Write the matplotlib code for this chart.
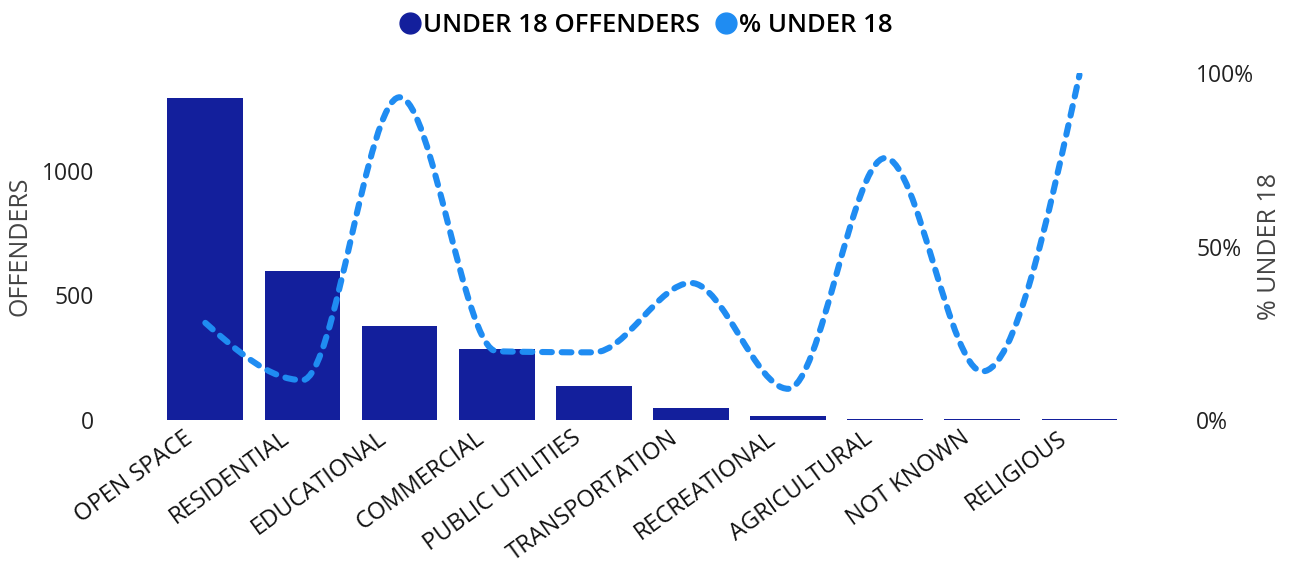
import matplotlib
matplotlib.use("Agg")
import matplotlib.pyplot as plt
from matplotlib.path import Path
from matplotlib.patches import PathPatch
from matplotlib.lines import Line2D
from matplotlib.ticker import PercentFormatter

plt.rcParams['font.family'] = ['Open Sans', 'DejaVu Sans']

categories = ["OPEN SPACE", "RESIDENTIAL", "EDUCATIONAL", "COMMERCIAL", "PUBLIC UTILITIES",
              "TRANSPORTATION", "RECREATIONAL", "AGRICULTURAL", "NOT KNOWN", "RELIGIOUS"]
offenders = [1292, 600, 376, 284, 136, 48, 18, 4, 4, 3]
pct_under18 = [0.28, 0.115, 0.93, 0.198, 0.195, 0.395, 0.09, 0.755, 0.14, 0.995]

bar_color = "#131F9C"
line_color = "#1F8CF2"


def sign(v):
    return (v > 0) - (v < 0)


def smooth_path(xs, ys):
    # monotone cubic (same idea as d3 monotoneX), drawn as bezier segments
    n = len(xs)
    sl = [(ys[i + 1] - ys[i]) / (xs[i + 1] - xs[i]) for i in range(n - 1)]
    t = [0.0] * n
    for i in range(1, n - 1):
        s0, s1 = sl[i - 1], sl[i]
        p = (s0 + s1) / 2
        t[i] = (sign(s0) + sign(s1)) * min(abs(s0), abs(s1), 0.5 * abs(p))
    t[0] = (3 * sl[0] - t[1]) / 2
    t[-1] = (3 * sl[-1] - t[-2]) / 2
    verts = [(xs[0], ys[0])]
    codes = [Path.MOVETO]
    for i in range(n - 1):
        dx = (xs[i + 1] - xs[i]) / 3
        verts += [(xs[i] + dx, ys[i] + dx * t[i]),
                  (xs[i + 1] - dx, ys[i + 1] - dx * t[i + 1]),
                  (xs[i + 1], ys[i + 1])]
        codes += [Path.CURVE4] * 3
    return Path(verts, codes)


fig = plt.figure(figsize=(12.9, 5.65), dpi=100)
ax = fig.add_axes([0.114, 0.2566, 0.768, 0.6142])
ax2 = ax.twinx()

x = list(range(len(categories)))
ax.bar(x, offenders, width=0.78, color=bar_color, zorder=2)
ax.set_xlim(-0.6, len(categories) - 0.4)
ax.set_ylim(0, 1393)
ax.set_yticks([0, 500, 1000])
ax.set_xticks(x)
ax.set_xticklabels([])
# category labels, slanted, end a bit left of the bar centre
for i, cat in enumerate(categories):
    ax.annotate(cat, (i, 0), xycoords=ax.get_xaxis_transform(),
                xytext=(-16, -4.5), textcoords='offset points',
                rotation=36, ha='right', va='top', rotation_mode='anchor',
                fontsize=17, color='#111111')
ax.tick_params(axis='y', length=0, pad=38, labelsize=16.5, labelcolor='#222222')
ax.tick_params(axis='x', length=0)
ax.set_ylabel("OFFENDERS", fontsize=18, color='#444444')
ax.yaxis.set_label_coords(-0.116, 0.5)

ax2.set_ylim(0, 1)
ax2.set_yticks([0, 0.5, 1.0])
ax2.yaxis.set_major_formatter(PercentFormatter(1.0, decimals=0))
ax2.tick_params(axis='y', length=0, pad=42, labelsize=16.5, labelcolor='#222222')
ax2.set_ylabel("% UNDER 18", fontsize=18, color='#444444')
ax2.yaxis.set_label_coords(1.12, 0.5)

patch = PathPatch(smooth_path(x, pct_under18), fill=False, edgecolor=line_color,
                  linewidth=4.4, linestyle=(0, (1.6, 1.6)), capstyle='round', zorder=3)
ax2.add_patch(patch)

for a in (ax, ax2):
    for s in a.spines.values():
        s.set_visible(False)

handles = [Line2D([], [], marker='o', linestyle='', color=bar_color, markersize=15),
           Line2D([], [], marker='o', linestyle='', color=line_color, markersize=15)]
fig.legend(handles, ["UNDER 18 OFFENDERS", "% UNDER 18"], loc='center',
           bbox_to_anchor=(0.5, 0.955), ncol=2, frameon=False,
           handletextpad=0.0, columnspacing=0.5, handlelength=1.0,
           prop={'weight': 'semibold', 'size': 18.5})

fig.savefig("out.png", dpi=100)
